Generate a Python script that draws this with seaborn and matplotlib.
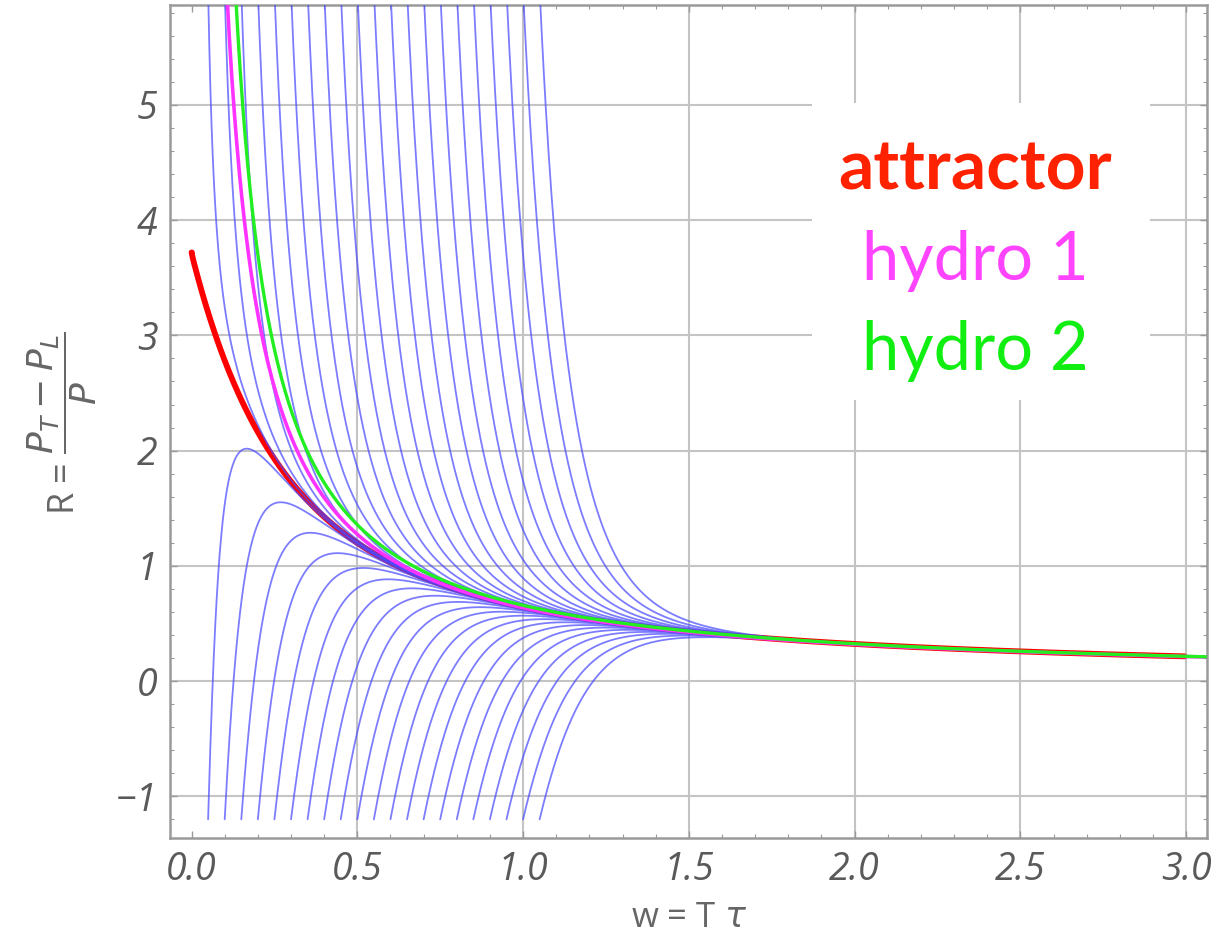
import numpy as np
import pandas as pd
import matplotlib
matplotlib.use("Agg")
import matplotlib.pyplot as plt
from matplotlib.patches import Rectangle
from matplotlib.ticker import MultipleLocator
import seaborn as sns

# ---------------- data ----------------
# transport coefficients of the (BRSSS / N=4) hydrodynamic model drawn
C_ETA = 1.0 / (4.0 * np.pi)
C_TAU_PI = (2.0 - np.log(2.0)) / (2.0 * np.pi)
C_LAMBDA1 = 1.0 / (2.0 * np.pi)

# starting values w0 of the blue trajectories
START_W = [0.05, 0.10, 0.15, 0.20, 0.25, 0.30, 0.35, 0.40, 0.45, 0.50, 0.55,
           0.60, 0.65, 0.70, 0.75, 0.80, 0.85, 0.90, 0.95, 1.00, 1.05]
START_R_LOW = -1.2     # trajectories starting at the bottom
START_R_HIGH = 6.0     # trajectories starting above the top
ATTRACTOR_R0 = 3.72    # attractor value at w = 0
W_END = 3.0            # end of the computed trajectories
W_HYDRO_END = 3.07

LABELS = ["attractor", "hydro 1", "hydro 2"]
X_TICKS = [0.0, 0.5, 1.0, 1.5, 2.0, 2.5, 3.0]
Y_TICKS = [-1, 0, 1, 2, 3, 4, 5]


def rhs(w, R):
    dR = (8 * C_ETA / C_TAU_PI - w * R / C_TAU_PI - 2 * R ** 2 / 9
          - w * C_LAMBDA1 * R ** 2 / (12 * C_ETA * C_TAU_PI))
    dw = w * (2.0 / 3.0 + R / 18.0)
    return dw, dR


def integrate(w0, R0, ds=0.003, nsteps=6000):
    w = np.array(w0, dtype=float)
    R = np.array(R0, dtype=float)
    W = [w.copy()]
    RR = [R.copy()]
    for _ in range(nsteps):
        k1w, k1r = rhs(w, R)
        k2w, k2r = rhs(w + 0.5 * ds * k1w, R + 0.5 * ds * k1r)
        k3w, k3r = rhs(w + 0.5 * ds * k2w, R + 0.5 * ds * k2r)
        k4w, k4r = rhs(w + ds * k3w, R + ds * k3r)
        w = w + ds / 6 * (k1w + 2 * k2w + 2 * k3w + k4w)
        R = R + ds / 6 * (k1r + 2 * k2r + 2 * k3r + k4r)
        W.append(w.copy())
        RR.append(R.copy())
        if np.all(w > W_END):
            break
    return np.array(W), np.array(RR)


# blue family
w0s = np.array(START_W + START_W)
r0s = np.array([START_R_LOW] * len(START_W) + [START_R_HIGH] * len(START_W))
Wt, Rt = integrate(w0s, r0s)
frames = []
for i in range(len(w0s)):
    m = Wt[:, i] <= W_END
    frames.append(pd.DataFrame({"w": Wt[m, i], "R": Rt[m, i], "curve": i}))
df_blue = pd.concat(frames, ignore_index=True)

# attractor
Wa, Ra = integrate(np.array([1e-3]), np.array([ATTRACTOR_R0]), ds=0.003, nsteps=8000)
Wa, Ra = Wa[:, 0], Ra[:, 0]
m = Wa <= W_END
df_att = pd.DataFrame({"w": np.r_[0.0, Wa[m]], "R": np.r_[ATTRACTOR_R0, Ra[m]]})

# gradient expansion
wh = np.linspace(0.08, W_HYDRO_END, 800)
df_h1 = pd.DataFrame({"w": wh, "R": 8 * C_ETA / wh})
df_h2 = pd.DataFrame({"w": wh, "R": 8 * C_ETA / wh
                      + 16 * C_ETA * (C_TAU_PI - C_LAMBDA1) / (3 * wh ** 2)})

# ---------------- figure ----------------
sns.set_theme(style="white")
plt.rcParams["font.family"] = ["Open Sans", "DejaVu Sans"]
plt.rcParams["mathtext.fontset"] = "dejavusans"

fig = plt.figure(figsize=(12.17, 9.44), dpi=100)
ax = fig.add_axes([170 / 1217, 1 - 838.3 / 944, 1037 / 1217, 833 / 944])

ax.set_xlim(-0.065, 3.063)
ax.set_ylim(-1.365, 5.865)

# grid
for xv in X_TICKS[1:]:
    ax.axvline(xv, color="#c4c4c4", lw=1.5, zorder=0)
for yv in Y_TICKS:
    ax.axhline(yv, color="#c4c4c4", lw=1.5, zorder=0)

# white box behind the labels
ax.add_patch(Rectangle((1.872, 2.44), 1.018, 2.58, facecolor="white",
                       edgecolor="none", zorder=0.5))

sns.lineplot(data=df_att, x="w", y="R", color="#ff0000", lw=4.2,
             sort=False, estimator=None, ax=ax, zorder=2)
sns.lineplot(data=df_blue, x="w", y="R", units="curve", estimator=None,
             sort=False, color="#4a4aff", alpha=0.72, lw=1.3, ax=ax,
             legend=False, zorder=3)
sns.lineplot(data=df_h1, x="w", y="R", color="#ff33ff", lw=2.6,
             sort=False, estimator=None, ax=ax, zorder=4)
sns.lineplot(data=df_h2, x="w", y="R", color="#22ee22", lw=2.4,
             sort=False, estimator=None, ax=ax, zorder=5)

ax.xaxis.set_major_locator(MultipleLocator(0.5))
ax.yaxis.set_major_locator(MultipleLocator(1))
ax.xaxis.set_minor_locator(MultipleLocator(0.1))
ax.yaxis.set_minor_locator(MultipleLocator(0.2))
ax.tick_params(which="both", direction="in", top=True, right=True,
               bottom=True, left=True, color="#9a9a9a")
ax.tick_params(which="major", length=5, width=1.0, labelsize=27,
               labelcolor="#5a5a5a", pad=9)
ax.tick_params(which="minor", length=3, width=0.8)
for lab in ax.get_xticklabels() + ax.get_yticklabels():
    lab.set_fontstyle("italic")

for sp in ax.spines.values():
    sp.set_color("#9a9a9a")
    sp.set_linewidth(1.8)

ax.set_xlabel("")
ax.set_ylabel("")
fig.text(689 / 1217, 1 - 918 / 944, r"w = T $\tau$", fontsize=25,
         color="#666666", ha="center", va="center")
fig.text(62 / 1217, 1 - 423 / 944, r"R = $\dfrac{P_T - P_L}{P}$",
         fontsize=26, color="#666666", rotation=90, ha="center", va="center")

fig.text(838 / 1217, 1 - 189 / 944, LABELS[0], color="#ff2200",
         fontsize=50, fontweight="bold", family=["Lato", "DejaVu Sans"],
         va="baseline", ha="left")
fig.text(862 / 1217, 1 - 280 / 944, LABELS[1], color="#ff44ff",
         fontsize=48, family=["Lato", "DejaVu Sans"], va="baseline", ha="left")
fig.text(862 / 1217, 1 - 370 / 944, LABELS[2], color="#11ee11",
         fontsize=48, family=["Lato", "DejaVu Sans"], va="baseline", ha="left")

fig.savefig("out.png", dpi=100, facecolor="white")
